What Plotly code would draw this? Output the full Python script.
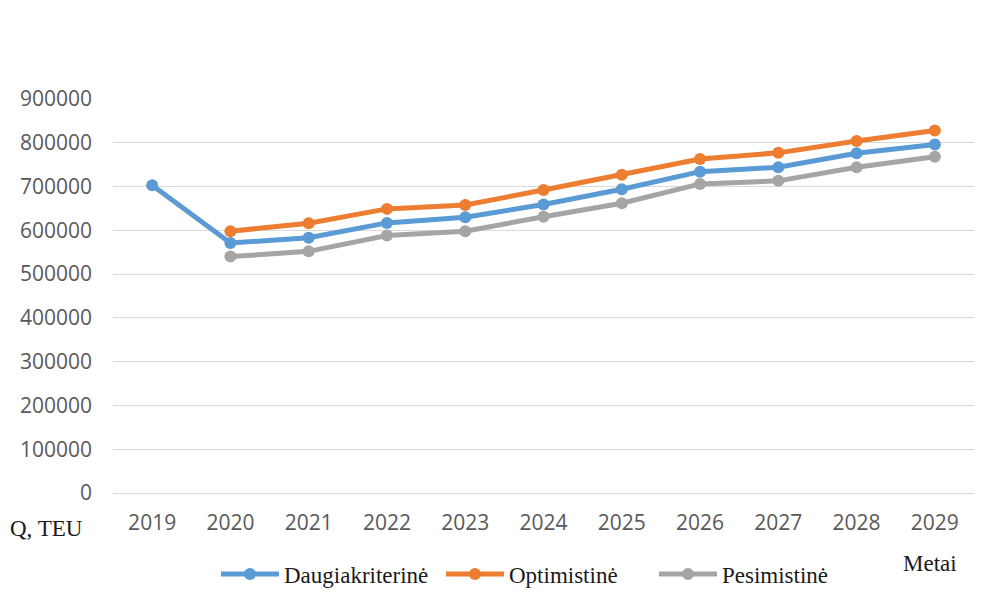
import plotly.graph_objects as go

years = ["2019", "2020", "2021", "2022", "2023", "2024", "2025", "2026", "2027", "2028", "2029"]
daugiakriterine = [703000, 571000, 583000, 617000, 630000, 659000, 694000, 734000, 744000, 776000, 796000]
optimistine = [None, 598000, 616000, 649000, 658000, 692000, 727000, 763000, 777000, 804000, 828000]
pesimistine = [None, 540000, 552000, 588000, 598000, 631000, 662000, 706000, 713000, 744000, 768000]
y_ticks = [0, 100000, 200000, 300000, 400000, 500000, 600000, 700000, 800000, 900000]

series = [
    ("Daugiakriterinė", daugiakriterine, "#5B9BD5", "legend"),
    ("Optimistinė", optimistine, "#ED7D31", "legend2"),
    ("Pesimistinė", pesimistine, "#A5A5A5", "legend3"),
]

fig = go.Figure()
for name, vals, col, lg in series:
    fig.add_trace(go.Scatter(
        x=years, y=vals, name=name, mode="lines+markers",
        line=dict(color=col, width=5),
        marker=dict(color=col, size=12),
        connectgaps=False, legend=lg,
    ))

tick_font = dict(family="Open Sans", size=21, color="#595959")
serif = dict(family="Liberation Serif", size=23, color="#1a1a1a")


def legend_at(xpx):
    return dict(
        orientation="h", xref="container", yref="container",
        x=xpx / 990, y=1 - 566 / 609, xanchor="left", yanchor="middle",
        font=serif, itemwidth=58, bgcolor="rgba(0,0,0,0)",
    )


fig.update_layout(
    width=990, height=609,
    margin=dict(l=103, r=24, t=91, b=124),
    paper_bgcolor="white", plot_bgcolor="white",
    font=serif,
    showlegend=True,
    legend=legend_at(208),
    legend2=legend_at(433),
    legend3=legend_at(646),
    xaxis=dict(
        type="category", range=[-0.5, 10.5], showgrid=False,
        showline=False, ticks="", tickfont=tick_font, ticklabelstandoff=15,
    ),
    yaxis=dict(
        range=[0, 900000], tickvals=y_ticks, ticktext=[str(v) for v in y_ticks],
        showgrid=True, gridcolor="#D9D9D9", gridwidth=1,
        zeroline=True, zerolinecolor="#D9D9D9", zerolinewidth=1,
        showline=False, ticks="", tickfont=tick_font, ticklabelstandoff=20,
    ),
    annotations=[
        dict(text="Q, TEU", xref="paper", yref="paper", x=-0.0776, y=-0.089,
             xanchor="center", yanchor="middle", showarrow=False, font=serif),
        dict(text="Metai", xref="paper", yref="paper", x=0.949, y=-0.178,
             xanchor="center", yanchor="middle", showarrow=False, font=serif),
    ],
)

fig.write_html("out.html")
